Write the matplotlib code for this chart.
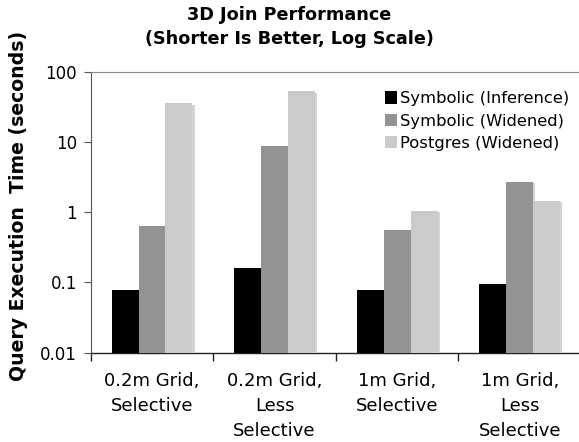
import matplotlib
matplotlib.use("Agg")
import matplotlib.pyplot as plt
import matplotlib.patheffects as pe
from matplotlib.patches import Patch
import numpy as np

categories = ["0.2m Grid,\nSelective", "0.2m Grid,\nLess\nSelective",
              "1m Grid,\nSelective", "1m Grid,\nLess\nSelective"]
series = ["Symbolic (Inference)", "Symbolic (Widened)", "Postgres (Widened)"]
sym_inference = [0.078, 0.16, 0.078, 0.095]
sym_widened = [0.635, 8.75, 0.56, 2.69]
pg_widened = [35.5, 52.6, 1.04, 1.44]
colors = ["#000000", "#939393", "#cbcbcb"]

plt.rcParams["font.family"] = ["DejaVu Sans"]

fig = plt.figure(figsize=(5.79, 4.42), dpi=100)
ax = fig.add_axes([0.1567, 0.202, 0.8468, 0.6358])

x = np.arange(len(categories))
w = 0.22
for i, (vals, c) in enumerate(zip([sym_inference, sym_widened, pg_widened], colors)):
    bars = ax.bar(x + (i - 1) * w, vals, w, color=c, zorder=3)
    if i > 0:
        for b in bars:
            b.set_path_effects([pe.SimplePatchShadow(offset=(1.5, -1), shadow_rgbFace="#d4d4d4", alpha=1.0),
                                pe.Normal()])

ax.set_yscale("log")
ax.set_ylim(0.01, 100)
ax.set_xlim(-0.5, len(categories) - 0.5)
ax.set_yticks([0.01, 0.1, 1, 10, 100])
ax.set_yticklabels(["0.01", "0.1", "1", "10", "100"])
ax.yaxis.set_minor_locator(matplotlib.ticker.NullLocator())
ax.tick_params(axis="y", which="major", length=5, width=0.8, color="#555555",
               labelsize=12, pad=5)

# boundaries get the tick marks, centres carry the labels
ax.set_xticks(np.arange(len(categories) + 1) - 0.5)
ax.set_xticklabels([])
ax.set_xticks(x, minor=True)
ax.set_xticklabels(categories, minor=True, fontsize=13, linespacing=1.5)
ax.tick_params(axis="x", which="major", length=6, width=1, color="#222222")
ax.tick_params(axis="x", which="minor", length=0, pad=14)

ax.spines["right"].set_visible(False)
ax.spines["top"].set_color("#888888")
ax.spines["left"].set_color("#555555")
ax.spines["bottom"].set_color("#222222")
ax.spines["bottom"].set_linewidth(1.0)

handles = [Patch(facecolor=c, label=lab) for c, lab in zip(colors, series)]
ax.legend(handles=handles, loc="upper left", bbox_to_anchor=(0.586, 0.954), frameon=False,
          fontsize=11.8, handlelength=0.75, handleheight=0.8, handletextpad=0.2,
          labelspacing=0.45, borderaxespad=0)

fig.text(0.5, 0.987, "3D Join Performance\n(Shorter Is Better, Log Scale)", ha="center",
         va="top", fontsize=12.7, fontweight="bold", linespacing=1.45)
fig.text(0.032, 0.534, "Query Execution  Time (seconds)", rotation=90, ha="center",
         va="center", fontsize=13.6, fontweight="bold")

fig.savefig("out.png", dpi=100)
